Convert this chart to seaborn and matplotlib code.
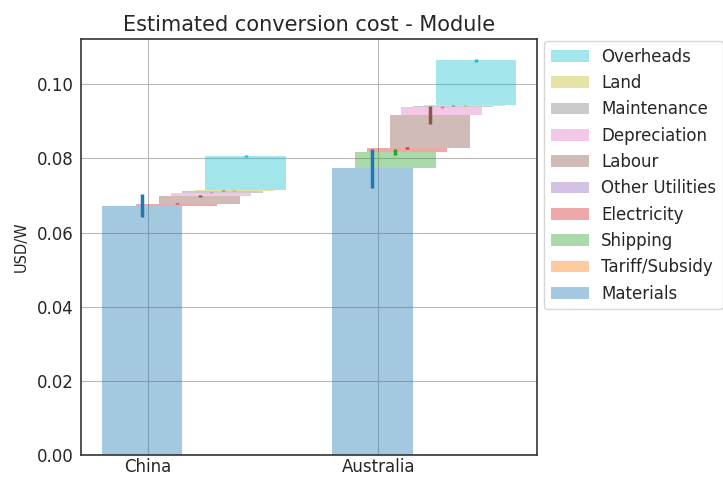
import seaborn as sns
import numpy as np
import matplotlib.pyplot as plt

# data
countries = ["China", "Australia"]
components = ["Materials", "Tariff/Subsidy", "Shipping", "Electricity", "Other Utilities",
              "Labour", "Depreciation", "Maintenance", "Land", "Overheads"]
china_cost = [0.0672, 0.0, 0.0, 0.0006, 0.0, 0.0020, 0.0010, 0.0005, 0.0001, 0.0092]
china_err = [0.0031, 0.0, 0.0, 0.0002, 0.0, 0.0003, 0.0002, 0.0002, 0.0001, 0.0003]
australia_cost = [0.0773, 0.0, 0.0043, 0.0012, 0.0, 0.0089, 0.0021, 0.0004, 0.0001, 0.0121]
australia_err = [0.0052, 0.0, 0.0008, 0.0002, 0.0, 0.0024, 0.0002, 0.0002, 0.0001, 0.0004]

sns.set_style("whitegrid", {"axes.edgecolor": "0.2", "grid.color": "0.72"})
colors = sns.color_palette("tab10")
# tab10 order: blue, orange, green, red, purple, brown, pink, gray, olive, cyan

costs = np.array([china_cost, australia_cost])
errs = np.array([china_err, australia_err])
tops = np.cumsum(costs, axis=1)
bottoms = tops - costs

fig, ax = plt.subplots(figsize=(7.23, 4.78), dpi=100)
fig.subplots_adjust(left=0.112, right=0.743, bottom=0.048, top=0.918)

x = np.arange(len(countries))
width = 0.35
step = 0.05
for k, name in enumerate(components):
    pos = x + k * step - 0.025
    ax.bar(pos, costs[:, k], width=width, bottom=bottoms[:, k],
           color=colors[k], alpha=0.4, label=name, linewidth=0)
    ax.errorbar(pos, tops[:, k], yerr=errs[:, k], fmt="none",
                ecolor=colors[k], elinewidth=2.5, capsize=0)

ax.set_xticks(x)
ax.set_xticklabels(countries, fontsize=12)
ax.tick_params(axis="y", labelsize=12, pad=5)
ax.tick_params(axis="x", pad=2)
ax.tick_params(length=0)
ax.set_ylabel("USD/W", fontsize=10.5, labelpad=6)
ax.set_title("Estimated conversion cost - Module", fontsize=15)
for sp in ax.spines.values():
    sp.set_linewidth(1.2)

handles, labels = ax.get_legend_handles_labels()
ax.legend(handles[::-1], labels[::-1], loc="upper left", bbox_to_anchor=(1.012, 1.0),
          fontsize=12, frameon=True, borderaxespad=0.1, handlelength=2.3,
          labelspacing=0.5, handletextpad=0.7)

plt.savefig("out.png", dpi=100)
plt.close()
